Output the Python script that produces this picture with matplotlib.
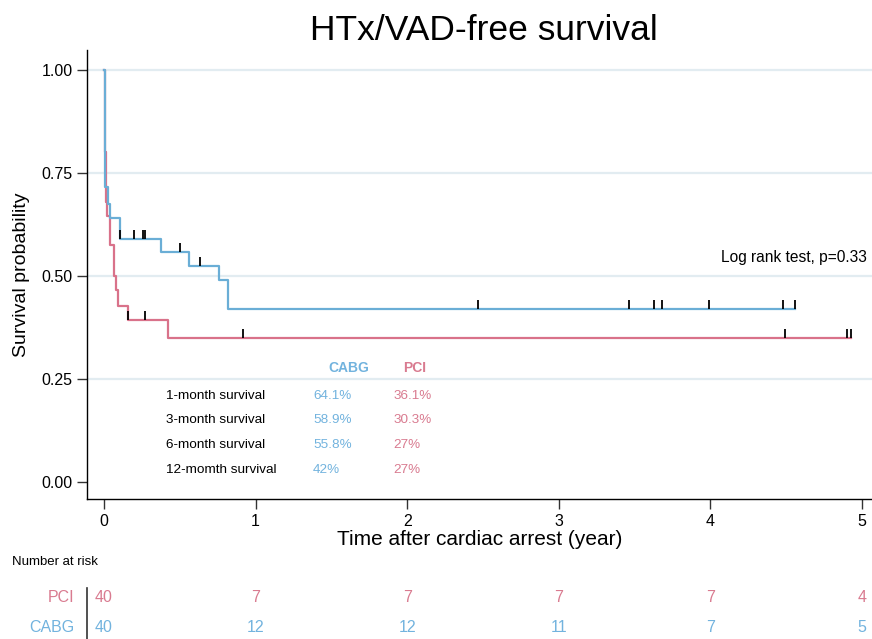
import matplotlib.pyplot as plt
import numpy as np
from matplotlib import transforms

plt.rcParams['font.family'] = ['Liberation Sans', 'DejaVu Sans']

blue = '#6aaed6'
pink = '#d9728a'
blue_txt = '#72b3de'
pink_txt = '#d97b90'

# Kaplan-Meier steps (time in years, survival after the step)
cabg_t = [0, 0.006, 0.025, 0.04, 0.105, 0.376, 0.56, 0.76, 0.82, 4.56]
cabg_s = [1.0, 0.716, 0.675, 0.641, 0.589, 0.558, 0.524, 0.49, 0.42, 0.42]
pci_t = [0, 0.004, 0.012, 0.018, 0.04, 0.066, 0.077, 0.094, 0.16, 0.42, 4.93]
pci_s = [1.0, 0.80, 0.68, 0.645, 0.575, 0.50, 0.466, 0.427, 0.393, 0.35, 0.35]

# censoring times
cabg_cens = [0.108, 0.2, 0.26, 0.27, 0.5, 0.63, 2.47, 3.46, 3.63, 3.68, 3.99, 4.48, 4.56]
pci_cens = [0.16, 0.27, 0.92, 4.49, 4.90, 4.93]

# summary table
rows = ['1-month survival', '3-month survival', '6-month survival', '12-momth survival']
cabg_pct = ['64.1%', '58.9%', '55.8%', '42%']
pci_pct = ['36.1%', '30.3%', '27%', '27%']

# number at risk
risk_times = [0, 1, 2, 3, 4, 5]
pci_risk = [40, 7, 7, 7, 7, 4]
cabg_risk = [40, 12, 12, 11, 7, 5]


def surv_at(times, surv, t):
    idx = np.searchsorted(times, t, side='right') - 1
    return surv[idx]


fig = plt.figure(figsize=(8.72, 6.39), dpi=100)
ax = fig.add_axes([0.0998, 0.219, 0.9002, 0.703])

for y in [0.25, 0.5, 0.75, 1.0]:
    ax.axhline(y, color='#e2ecf1', lw=1.6, zorder=0)

ax.step(cabg_t, cabg_s, where='post', color=blue, lw=1.6, zorder=3)
ax.step(pci_t, pci_s, where='post', color=pink, lw=1.6, zorder=2)

for times, surv, cens in [(cabg_t, cabg_s, cabg_cens), (pci_t, pci_s, pci_cens)]:
    for c in cens:
        yv = surv_at(times, surv, c)
        ax.vlines(c, yv, yv + 0.022, color='black', lw=1.3, zorder=4)

ax.set_xlim(-0.112, 5.066)
ax.set_ylim(-0.041, 1.049)
ax.set_xticks([0, 1, 2, 3, 4, 5])
ax.set_yticks([0, 0.25, 0.5, 0.75, 1.0])
ax.set_yticklabels(['0.00', '0.25', '0.50', '0.75', '1.00'])
ax.tick_params(direction='out', length=7, width=1, colors='#333333', labelsize=11.5, labelcolor='black')
for s in ['top', 'right']:
    ax.spines[s].set_visible(False)
for s in ['left', 'bottom']:
    ax.spines[s].set_linewidth(1.0)

ax.set_ylabel('Survival probability', fontsize=14, labelpad=8)
ax.set_xlabel('Time after cardiac arrest (year)', fontsize=15, labelpad=1)
fig.text(0.555, 0.952, 'HTx/VAD-free survival', fontsize=25.5, ha='center', va='center')

ax.text(4.07, 0.50 + 0.045, 'Log rank test, p=0.33', fontsize=11.2, ha='left', va='center')

# inset table
ax.text(1.48, 0.277, 'CABG', color=blue_txt, fontsize=10, fontweight='bold', ha='left', va='center')
ax.text(1.97, 0.277, 'PCI', color=pink_txt, fontsize=10, fontweight='bold', ha='left', va='center')
for i, (r, a, b) in enumerate(zip(rows, cabg_pct, pci_pct)):
    yy = 0.21 - i * 0.06
    ax.text(0.41, yy, r, fontsize=9.7, ha='left', va='center')
    ax.text(1.38, yy, a, fontsize=9.7, color=blue_txt, ha='left', va='center')
    ax.text(1.91, yy, b, fontsize=9.7, color=pink_txt, ha='left', va='center')

# number at risk table
trans = transforms.blended_transform_factory(ax.transData, fig.transFigure)
fig.text(0.014, 1 - 562 / 639, 'Number at risk', fontsize=9.5, ha='left', va='center')
y_pci = 1 - 598 / 639
y_cabg = 1 - 627 / 639
fig.text(0.085, y_pci, 'PCI', fontsize=11.5, color=pink_txt, ha='right', va='center')
fig.text(0.085, y_cabg, 'CABG', fontsize=11.5, color=blue_txt, ha='right', va='center')
fig.add_artist(plt.Line2D([0.0998, 0.0998], [0.0, 1 - 588 / 639], transform=fig.transFigure,
                          color='#333333', lw=1.2))
for t, p, c in zip(risk_times, pci_risk, cabg_risk):
    fig.text(t, y_pci, str(p), transform=trans, fontsize=11.5, color=pink_txt, ha='center', va='center')
    fig.text(t, y_cabg, str(c), transform=trans, fontsize=11.5, color=blue_txt, ha='center', va='center')

fig.savefig('out.png', dpi=100)
